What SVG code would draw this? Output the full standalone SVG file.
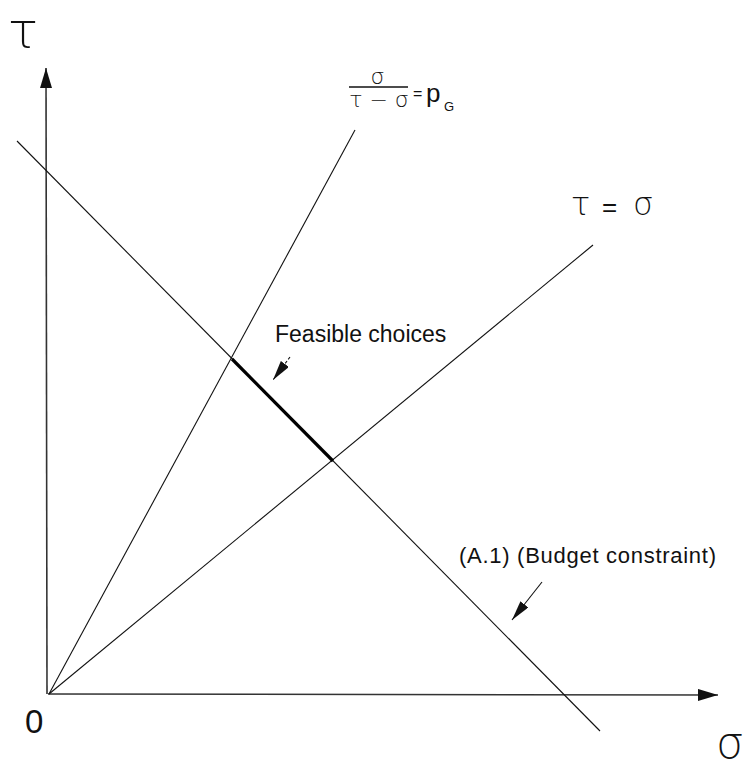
<svg xmlns="http://www.w3.org/2000/svg" width="752" height="767" viewBox="0 0 752 767">
<style>
.ln{stroke:#111;stroke-width:1.1;fill:none}
.ax{stroke:#333;stroke-width:1.6;fill:none}
.t{font-family:"Liberation Sans",Arial,sans-serif;fill:#111}
.g{font-family:"DejaVu Sans","Noto Sans",sans-serif;fill:#111;font-weight:300}
</style>
<defs>
<marker id="axh" markerUnits="userSpaceOnUse" markerWidth="22" markerHeight="12" refX="20" refY="6" orient="auto">
<path d="M0,0 L20,6 L0,12 Z" fill="#111"/>
</marker>
<marker id="cah" markerUnits="userSpaceOnUse" markerWidth="22" markerHeight="12" refX="20" refY="5" orient="auto">
<path d="M0,0 L20,5 L0,10 Z" fill="#111"/>
</marker>
</defs>
<rect width="752" height="767" fill="#fff"/>
<g id="connectors">
<line id="y-axis" class="ax" x1="47" y1="694" x2="46" y2="68" marker-end="url(#axh)"/>
<line id="x-axis" class="ax" x1="48" y1="694" x2="718" y2="695" marker-end="url(#axh)"/>
<line id="budget" class="ln" x1="17" y1="141" x2="600" y2="731"/>
<line id="pg-line" class="ln" x1="49" y1="694" x2="355" y2="130"/>
<line id="diag" class="ln" x1="49" y1="694" x2="593" y2="245"/>
<line id="feasible" x1="232" y1="359" x2="333" y2="461" stroke="#000" stroke-width="3.2"/>
<line id="feas-arrow" class="ln" x1="290" y1="357" x2="273" y2="380" stroke-dasharray="3,2" marker-end="url(#cah)"/>
<line id="budget-arrow" class="ln" x1="542" y1="582" x2="512" y2="620" marker-end="url(#cah)"/>
</g>
<g id="label-tau-axis"><text class="g" x="8" y="48" font-size="50">τ</text></g>
<g id="label-sigma-axis"><text class="g" x="716" y="758" font-size="44">σ</text></g>
<g id="label-origin"><text class="t" x="25" y="733" font-size="33">0</text></g>
<g id="label-pg">
<text class="g" x="377.5" y="84" font-size="22" text-anchor="middle">σ</text>
<line x1="349" y1="87" x2="408" y2="87" stroke="#111" stroke-width="1.3"/>
<text class="g" x="379" y="107" font-size="22" text-anchor="middle">τ − σ</text>
<text class="t" x="413" y="99" font-size="16">=</text>
<text class="t" x="426" y="102" font-size="26">p</text>
<text class="t" x="444" y="111" font-size="13">G</text>
</g>
<g id="label-diag"><text class="g" x="571" y="215" font-size="32">τ</text><text class="t" x="602" y="216" font-size="26">=</text><text class="g" x="633" y="215" font-size="32">σ</text></g>
<g id="label-feasible"><text class="t" x="275" y="342" font-size="23">Feasible choices</text></g>
<g id="label-budget"><text class="t" x="459" y="563" font-size="22" textLength="257">(A.1) (Budget constraint)</text></g>
</svg>
